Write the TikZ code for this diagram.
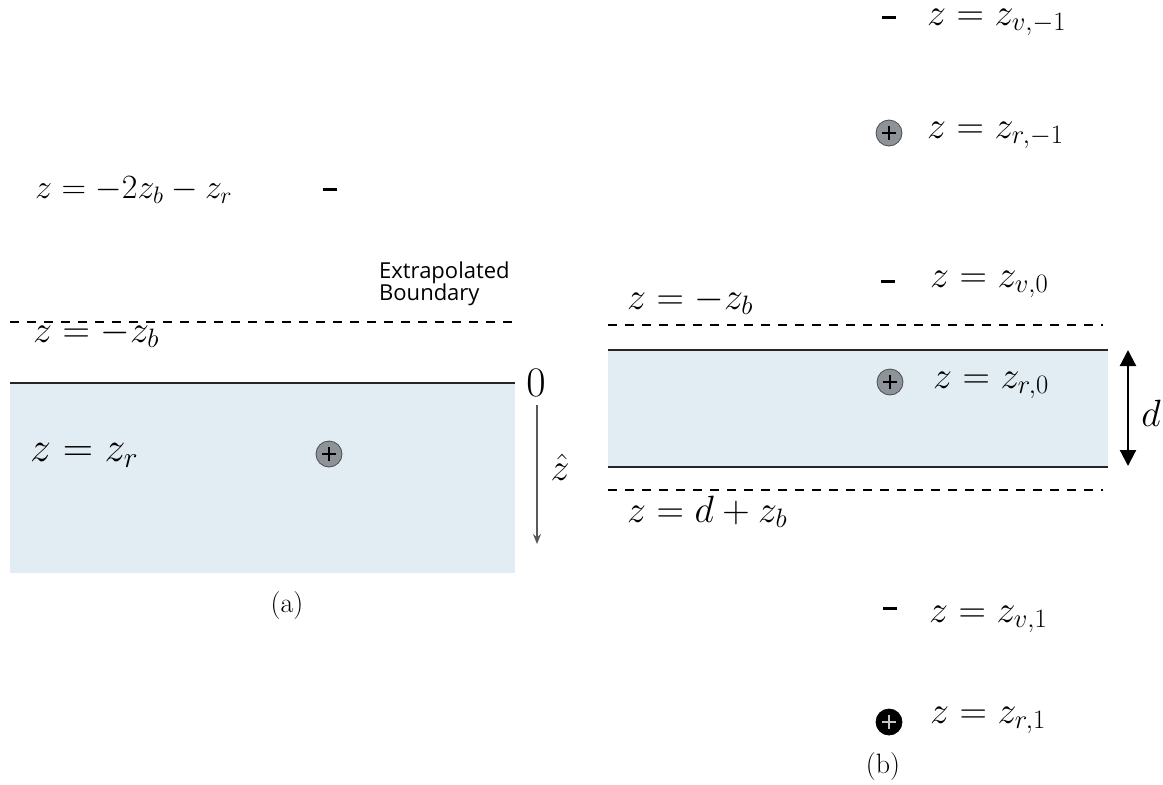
\RequirePackage{fix-cm}
\documentclass[tikz,border=0pt]{standalone}
\usepackage{fontspec}
\newfontfamily\labelsans{Open Sans}
\usetikzlibrary{arrows.meta}
\definecolor{slab}{HTML}{E2EDF3}
\definecolor{chargegray}{HTML}{8E9399}
\begin{document}
\begin{tikzpicture}[x=1pt,y=-1pt,
  eq/.style={inner sep=0pt, anchor=base west, font=\fontsize{38}{44}\selectfont},
  caption/.style={inner sep=0pt, font=\fontsize{28}{32}\selectfont},
  sanslabel/.style={inner sep=0pt, anchor=base west, font=\labelsans\fontsize{22}{26}\selectfont},
  minusbar/.style={rectangle, fill=black, inner sep=0pt, minimum width=14pt, minimum height=3pt},
  chargebase/.style={circle, inner sep=0pt, minimum size=26pt, line width=0.8pt},
  poscharge/.style={chargebase, fill=chargegray, draw=gray!60!black,
    path picture={\draw[line width=1.8pt,black]
      ([xshift=-7pt]path picture bounding box.center)--([xshift=7pt]path picture bounding box.center)
      ([yshift=-7pt]path picture bounding box.center)--([yshift=7pt]path picture bounding box.center);}},
  darkcharge/.style={chargebase, fill=black, draw=black,
    path picture={\draw[line width=2.2pt,gray!45]
      ([xshift=-7pt]path picture bounding box.center)--([xshift=7pt]path picture bounding box.center)
      ([yshift=-7pt]path picture bounding box.center)--([yshift=7pt]path picture bounding box.center);}},
  dashedline/.style={dash pattern=on 9pt off 8pt, line width=2pt},
  solidline/.style={line width=2.5pt, black!85}]
\useasboundingbox (0,0) rectangle (1163,785);

% ---------- panel (a) ----------
\fill[slab] (10,383) rectangle (515,573);
\draw[dashedline] (10,322) -- (515,322);
\draw[solidline] (10,383) -- (515,383);
\node[eq, font=\fontsize{34}{40}\selectfont] (eqimg) at (35,198) {$z=-2z_b-z_r$};
\node[minusbar] (imgA) at (330,189) {};
\node[sanslabel] (extra1) at (379,278) {Extrapolated};
\node[sanslabel] (extra2) at (379,300) {Boundary};
\node[eq] (zbA) at (33,342) {$z=-z_b$};
\node[eq, font=\fontsize{42}{48}\selectfont] (zrA) at (30,461) {$z=z_r$};
\node[poscharge] (qA) at (329,454) {};
\node[inner sep=0pt, font=\fontsize{42}{48}\selectfont] (zero) at (536,383) {$0$};
\coordinate (zt) at (537,405);
\coordinate (zbot) at (537,544);
\draw[-{Stealth[length=10pt,width=8pt]}, line width=1.3pt, black!65] (zt) -- (zbot);
\node[inner sep=0pt, font=\fontsize{38}{44}\selectfont] (zhat) at (560,467) {$\hat z$};
\node[caption] (capA) at (287,606) {(a)};

% ---------- panel (b) ----------
\fill[slab] (608,350) rectangle (1108,467);
\draw[dashedline] (608,325) -- (1103,325);
\draw[solidline] (608,350) -- (1108,350);
\draw[solidline] (608,467) -- (1108,467);
\draw[dashedline] (608,490) -- (1103,490);
\coordinate (dtop) at (1128,350);
\coordinate (dbot) at (1128,466);
\draw[{Triangle[width=16pt,length=16pt]}-{Triangle[width=16pt,length=16pt]}, line width=2.2pt] (dtop) -- (dbot);
\node[inner sep=0pt, font=\fontsize{38}{44}\selectfont] (dlab) at (1151,413) {$d$};

\node[minusbar] (vm1) at (889,17) {};
\node[eq] (evm1) at (927,25) {$z=z_{v,-1}$};
\node[poscharge] (rm1) at (889,133) {};
\node[eq] (erm1) at (927,138) {$z=z_{r,-1}$};
\node[minusbar] (v0) at (888,281) {};
\node[eq] (ev0) at (930,287) {$z=z_{v,0}$};
\node[eq] (zbB) at (627,309) {$z=-z_b$};
\node[poscharge] (r0) at (890,382) {};
\node[eq] (er0) at (933,388) {$z=z_{r,0}$};
\node[eq] (dzb) at (627,522) {$z=d+z_b$};
\node[minusbar] (v1) at (890,608) {};
\node[eq] (ev1) at (929,622) {$z=z_{v,1}$};
\node[darkcharge] (r1) at (889,722) {};
\node[eq] (er1) at (930,723) {$z=z_{r,1}$};
\node[caption] (capB) at (883,767) {(b)};
\end{tikzpicture}
\end{document}
